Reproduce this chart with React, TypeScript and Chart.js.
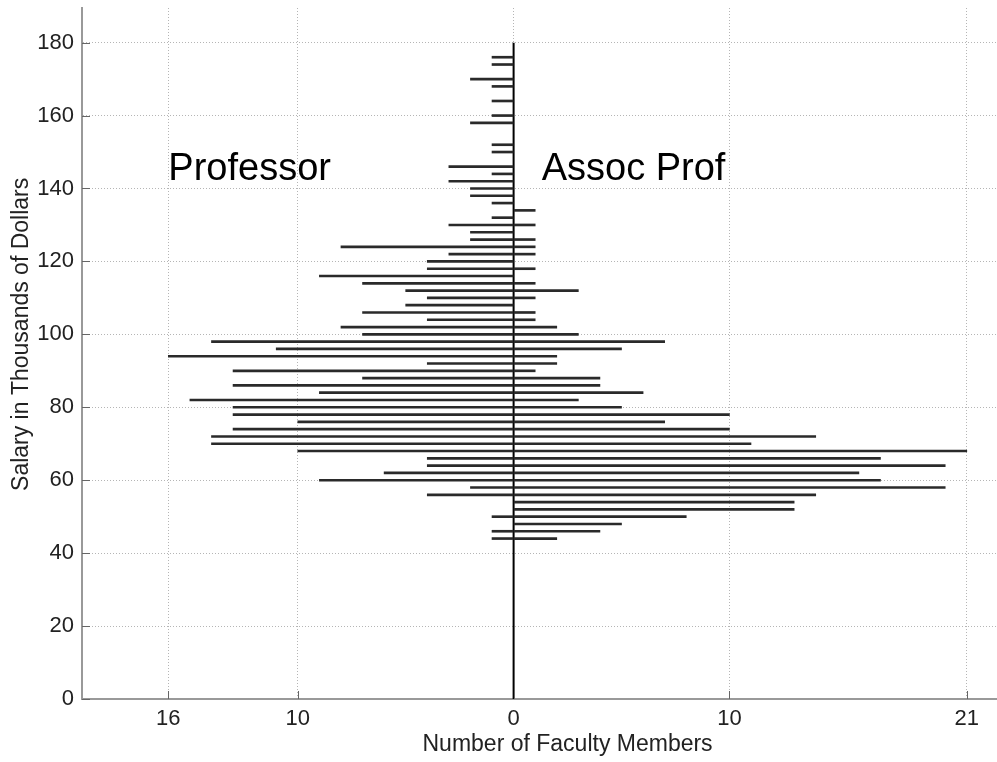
import React, { useEffect, useRef } from "react";
import { Chart, registerables } from "chart.js";

Chart.register(...registerables);

// Salary bins (thousands of dollars), bin centers
const salaryBins = [
  176, 174, 172, 170, 168, 166, 164, 162, 160, 158, 156, 154, 152, 150, 148, 146, 144, 142, 140, 138,
  136, 134, 132, 130, 128, 126, 124, 122, 120, 118, 116, 114, 112, 110, 108, 106, 104, 102, 100, 98,
  96, 94, 92, 90, 88, 86, 84, 82, 80, 78, 76, 74, 72, 70, 68, 66, 64, 62, 60, 58,
  56, 54, 52, 50, 48, 46, 44,
];

// Number of Professors per bin (drawn to the left)
const professorCounts = [
  1, 1, 0, 2, 1, 0, 1, 0, 1, 2, 0, 0, 1, 1, 0, 3, 1, 3, 2, 2,
  1, 0, 1, 3, 2, 2, 8, 3, 4, 4, 9, 7, 5, 4, 5, 7, 4, 8, 7, 14,
  11, 16, 4, 13, 7, 13, 9, 15, 13, 13, 10, 13, 14, 14, 10, 4, 4, 6, 9, 2,
  4, 0, 0, 1, 0, 1, 1,
];

// Number of Associate Professors per bin (drawn to the right)
const assocProfCounts = [
  0, 0, 0, 0, 0, 0, 0, 0, 0, 0, 0, 0, 0, 0, 0, 0, 0, 0, 0, 0,
  0, 1, 0, 1, 0, 1, 1, 1, 0, 1, 0, 1, 3, 1, 0, 1, 1, 2, 3, 7,
  5, 2, 2, 1, 4, 4, 6, 3, 5, 10, 7, 10, 14, 11, 21, 17, 20, 16, 17, 20,
  14, 13, 13, 8, 5, 4, 2,
];

const xTickValues = [-16, -10, 0, 10, 21];
const yTickValues = [0, 20, 40, 60, 80, 100, 120, 140, 160, 180];

const leftLabel = "Professor";
const rightLabel = "Assoc Prof";
const xTitle = "Number of Faculty Members";
const yTitle = "Salary in Thousands of Dollars";

const FONT = '"Liberation Sans", Arial, Helvetica, sans-serif';

export default function App() {
  const canvasRef = useRef<HTMLCanvasElement | null>(null);

  useEffect(() => {
    const canvas = canvasRef.current;
    if (!canvas) return;

    const profData = salaryBins
      .map((s, i) => ({ y: s, x: [-professorCounts[i], 0] }))
      .filter((d) => d.x[0] !== 0);
    const assocData = salaryBins
      .map((s, i) => ({ y: s, x: [0, assocProfCounts[i]] }))
      .filter((d) => d.x[1] !== 0);

    const overlay = {
      id: "overlay",
      afterDraw(chart: any) {
        const { ctx, chartArea, scales } = chart;
        const xs = scales.x;
        const ys = scales.y;
        ctx.save();
        // inward tick marks
        ctx.strokeStyle = "#666";
        ctx.lineWidth = 1;
        ctx.beginPath();
        xTickValues.forEach((v) => {
          const px = Math.round(xs.getPixelForValue(v)) + 0.5;
          ctx.moveTo(px, chartArea.bottom);
          ctx.lineTo(px, chartArea.bottom - 8);
        });
        yTickValues.forEach((v) => {
          const py = Math.round(ys.getPixelForValue(v)) + 0.5;
          ctx.moveTo(chartArea.left, py);
          ctx.lineTo(chartArea.left + 8, py);
        });
        ctx.stroke();

        // annotations
        ctx.fillStyle = "#000";
        ctx.font = `38px ${FONT}`;
        ctx.textAlign = "left";
        ctx.textBaseline = "alphabetic";
        ctx.fillText(leftLabel, xs.getPixelForValue(-16), ys.getPixelForValue(142.3));
        ctx.fillText(rightLabel, xs.getPixelForValue(1.3), ys.getPixelForValue(142.3));

        // axis titles
        ctx.fillStyle = "#222";
        ctx.font = `23px ${FONT}`;
        ctx.textAlign = "center";
        ctx.fillText(xTitle, xs.getPixelForValue(2.5), chartArea.bottom + 52);
        ctx.save();
        ctx.translate(28, ys.getPixelForValue(100));
        ctx.rotate(-Math.PI / 2);
        ctx.textBaseline = "alphabetic";
        ctx.fillText(yTitle, 0, 0);
        ctx.restore();
        ctx.restore();
      },
    };

    const chart = new Chart(canvas, {
      type: "bar",
      data: {
        datasets: [
          {
            label: leftLabel,
            data: profData as any,
            backgroundColor: "#2a2a2a",
            barThickness: 2,
            borderWidth: 0,
            grouped: false,
          } as any,
          {
            label: rightLabel,
            data: assocData as any,
            backgroundColor: "#2a2a2a",
            barThickness: 2,
            borderWidth: 0,
            grouped: false,
          } as any,
          {
            type: "line",
            label: "zero",
            indexAxis: "y",
            data: [
              { x: 0, y: 0 },
              { x: 0, y: 180 },
            ],
            borderColor: "#000",
            borderWidth: 2,
            pointRadius: 0,
            fill: false,
          } as any,
        ],
      },
      options: {
        indexAxis: "y",
        animation: false,
        responsive: false,
        devicePixelRatio: 1,
        layout: { padding: { top: 8, right: 0, left: 0, bottom: 0 } },
        plugins: {
          legend: { display: false },
          tooltip: { enabled: false },
        },
        scales: {
          x: {
            type: "linear",
            min: -20,
            max: 22.4,
            offset: false,
            afterBuildTicks: (scale: any) => {
              scale.ticks = xTickValues.map((v) => ({ value: v }));
            },
            afterFit: (scale: any) => {
              scale.height = 63;
              scale.paddingLeft = 0;
              scale.paddingRight = 0;
            },
            grid: {
              color: "#b5b5b5",
              lineWidth: 1,
              drawTicks: false,
              offset: false,
            },
            border: { display: true, color: "#999", width: 2, dash: [1, 2] },
            ticks: {
              color: "#222",
              font: { family: FONT, size: 22 },
              padding: 7,
              maxRotation: 0,
              autoSkip: false,
              callback: (v: any) => String(Math.abs(Number(v))),
            },
          },
          y: {
            type: "linear",
            min: 0,
            max: 189.5,
            offset: false,
            afterBuildTicks: (scale: any) => {
              scale.ticks = yTickValues.map((v) => ({ value: v }));
            },
            afterFit: (scale: any) => {
              scale.width = 82;
              scale.paddingTop = 0;
              scale.paddingBottom = 0;
            },
            grid: {
              color: "#b5b5b5",
              lineWidth: 1,
              drawTicks: false,
              offset: false,
            },
            border: { display: true, color: "#999", width: 2, dash: [1, 2] },
            ticks: {
              color: "#222",
              font: { family: FONT, size: 22 },
              padding: 8,
              autoSkip: false,
            },
          },
        },
      } as any,
      plugins: [overlay],
    });

    return () => chart.destroy();
  }, []);

  return (
    <div style={{ position: "fixed", left: 0, top: 0, width: 997, height: 762, background: "#fff" }}>
      <canvas ref={canvasRef} width={997} height={762} style={{ display: "block" }} />
    </div>
  );
}
